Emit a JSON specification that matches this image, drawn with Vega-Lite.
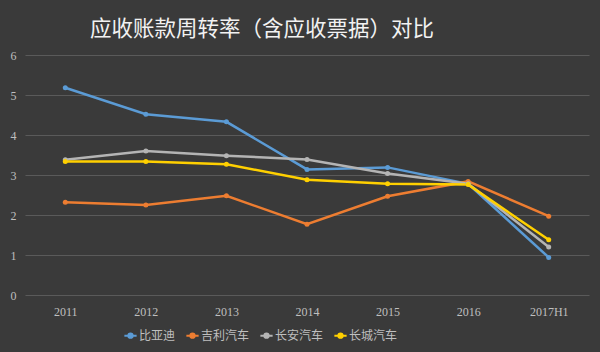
{
  "$schema": "https://vega.github.io/schema/vega-lite/v6.json",
  "width": 564,
  "height": 240,
  "autosize": {"type": "none"},
  "padding": {"left": 25, "top": 55, "right": 11, "bottom": 57},
  "background": "#3a3a3a",
  "title": {
    "text": "应收账款周转率（含应收票据）对比",
    "color": "#f2f2f2",
    "font": "Noto Sans CJK SC",
    "fontSize": 21.5,
    "fontWeight": "normal",
    "anchor": "middle",
    "dx": -45,
    "offset": 9
  },
  "config": {
    "view": {"stroke": null},
    "axis": {"labelFont": "Liberation Serif", "labelColor": "#bfbfbf", "labelFontSize": 12}
  },
  "data": {
    "values": [
      {"year": "2011", "company": "比亚迪", "value": 5.18},
      {"year": "2012", "company": "比亚迪", "value": 4.52},
      {"year": "2013", "company": "比亚迪", "value": 4.33},
      {"year": "2014", "company": "比亚迪", "value": 3.14},
      {"year": "2015", "company": "比亚迪", "value": 3.19},
      {"year": "2016", "company": "比亚迪", "value": 2.78},
      {"year": "2017H1", "company": "比亚迪", "value": 0.94},
      {"year": "2011", "company": "吉利汽车", "value": 2.32},
      {"year": "2012", "company": "吉利汽车", "value": 2.25},
      {"year": "2013", "company": "吉利汽车", "value": 2.48},
      {"year": "2014", "company": "吉利汽车", "value": 1.77},
      {"year": "2015", "company": "吉利汽车", "value": 2.47},
      {"year": "2016", "company": "吉利汽车", "value": 2.84},
      {"year": "2017H1", "company": "吉利汽车", "value": 1.97},
      {"year": "2011", "company": "长安汽车", "value": 3.38},
      {"year": "2012", "company": "长安汽车", "value": 3.6},
      {"year": "2013", "company": "长安汽车", "value": 3.48},
      {"year": "2014", "company": "长安汽车", "value": 3.39},
      {"year": "2015", "company": "长安汽车", "value": 3.04},
      {"year": "2016", "company": "长安汽车", "value": 2.78},
      {"year": "2017H1", "company": "长安汽车", "value": 1.2},
      {"year": "2011", "company": "长城汽车", "value": 3.34},
      {"year": "2012", "company": "长城汽车", "value": 3.34},
      {"year": "2013", "company": "长城汽车", "value": 3.27},
      {"year": "2014", "company": "长城汽车", "value": 2.88},
      {"year": "2015", "company": "长城汽车", "value": 2.78},
      {"year": "2016", "company": "长城汽车", "value": 2.76},
      {"year": "2017H1", "company": "长城汽车", "value": 1.38}
    ]
  },
  "encoding": {
    "x": {
      "field": "year",
      "type": "ordinal",
      "sort": null,
      "scale": {"paddingInner": 0, "paddingOuter": 0.5},
      "axis": {"title": null, "domain": false, "ticks": false, "labelAngle": 0, "labelPadding": 11, "grid": false}
    },
    "y": {
      "field": "value",
      "type": "quantitative",
      "scale": {"domain": [0, 6]},
      "axis": {
        "title": null,
        "domain": false,
        "ticks": false,
        "tickCount": 6,
        "labelPadding": 12,
        "labelAlign": "center",
        "gridColor": "#5a5a5a",
        "gridWidth": 1
      }
    },
    "color": {
      "field": "company",
      "type": "nominal",
      "sort": ["比亚迪", "吉利汽车", "长安汽车", "长城汽车"],
      "scale": {
        "domain": ["比亚迪", "吉利汽车", "长安汽车", "长城汽车"],
        "range": ["#5b9bd5", "#ed7d31", "#b4b4b4", "#ffd000"]
      },
      "legend": {
        "title": null,
        "orient": "none",
        "direction": "horizontal",
        "legendX": 98,
        "legendY": 273,
        "labelColor": "#bfbfbf",
        "labelFont": "Noto Sans CJK SC",
        "labelFontSize": 12,
        "symbolType": "M-1,0H1M-0.35,0A0.35,0.35,0,1,1,0.35,0A0.35,0.35,0,1,1,-0.35,0Z",
        "symbolSize": 150,
        "symbolStrokeWidth": 2,
        "columnPadding": 6,
        "labelOffset": 1
      }
    }
  },
  "layer": [
    {"mark": {"type": "line", "strokeWidth": 2.5}},
    {"mark": {"type": "point", "filled": true, "size": 25, "opacity": 1}}
  ]
}
